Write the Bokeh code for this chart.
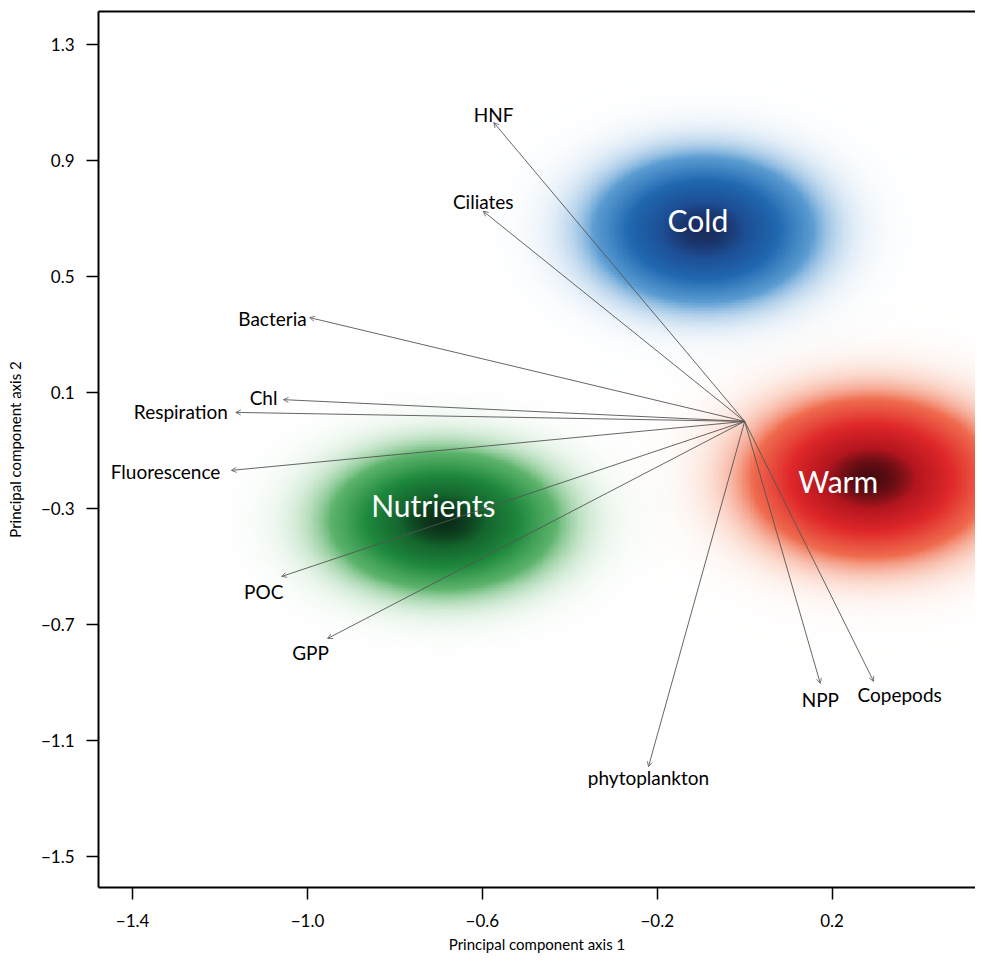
import numpy as np
from bokeh.plotting import figure
from bokeh.models import (ColumnDataSource, Arrow, OpenHead, LinearAxis, FixedTicker,
                          CustomJSTickFormatter, Range1d)
from bokeh.core.properties import value
from bokeh.embed import file_html
from bokeh.resources import INLINE

# ---- data: variable loadings (arrows) ----
var_names = ["HNF", "Ciliates", "Bacteria", "Chl", "Respiration", "Fluorescence",
             "POC", "GPP", "phytoplankton", "NPP", "Copepods"]
var_pc1 = [-0.574, -0.598, -0.995, -1.055, -1.164, -1.174, -1.059, -0.954, -0.220, 0.173, 0.295]
var_pc2 = [1.031, 0.725, 0.358, 0.075, 0.031, -0.169, -0.535, -0.749, -1.191, -0.904, -0.897]

# ---- data: group clouds ----
group_names = ["Cold", "Warm", "Nutrients"]
group_pc1 = [-0.094, 0.288, -0.690]
group_pc2 = [0.659, -0.197, -0.345]
group_sd1 = [0.175, 0.190, 0.180]
group_sd2 = [0.175, 0.190, 0.165]
group_label_pc1 = [-0.107, 0.214, -0.712]
group_label_pc2 = [0.696, -0.204, -0.290]

x_ticks = [-1.4, -1.0, -0.6, -0.2, 0.2]
y_ticks = [1.3, 0.9, 0.5, 0.1, -0.3, -0.7, -1.1, -1.5]

# ---- styles ----
FONT = "Lato"
group_colors = {
    "Cold": ["#eef4fb", "#b9d4ed", "#5d9ed3", "#2069b1", "#1d4f96", "#1a2d5e"],
    "Warm": ["#fdeae2", "#f9bba3", "#f06e50", "#e0282a", "#b5161f", "#4a0b10"],
    "Nutrients": ["#ecf6ed", "#b8dfbd", "#5fb56e", "#1f8a3e", "#15662e", "#0b2e18"],
}
stop_t = [0.0, 0.12, 0.35, 0.62, 0.86, 1.0]
# label placement: (align, x_offset px, y_offset px)
label_place = {
    "HNF": ("center", 0, -8), "Ciliates": ("center", 0, -10),
    "Bacteria": ("right", -3, 1), "Chl": ("right", -6, -2),
    "Respiration": ("right", -8, -1), "Fluorescence": ("right", -11, 1),
    "POC": ("center", -18, 15), "GPP": ("center", -17, 14),
    "phytoplankton": ("center", 0, 11), "NPP": ("center", 0, 16),
    "Copepods": ("center", 26, 13),
}

p = figure(width=975, height=957, output_backend="svg", toolbar_location=None,
           x_range=Range1d(-1.478, 0.528), y_range=Range1d(-1.608, 1.414),
           min_border_left=98, min_border_right=0, min_border_top=11, min_border_bottom=70)
p.outline_line_color = None
p.grid.visible = False
p.background_fill_color = "white"

fmt = CustomJSTickFormatter(code="return tick.toFixed(1).replace('-', '\u2212');")
for ax in (p.xaxis[0], p.yaxis[0]):
    ax.axis_line_width = 2
    ax.axis_line_color = "black"
    ax.major_tick_line_width = 1.5
    ax.major_tick_out = 12
    ax.major_tick_in = 0
    ax.minor_tick_line_color = None
    ax.major_label_text_font = FONT
    ax.major_label_text_font_size = "17px"
    ax.major_label_text_color = "black"
    ax.axis_label_text_font = FONT
    ax.axis_label_text_font_style = "normal"
    ax.axis_label_text_font_size = "15px"
    ax.axis_label_text_color = "black"
    ax.formatter = fmt
p.xaxis[0].ticker = FixedTicker(ticks=x_ticks)
p.yaxis[0].ticker = FixedTicker(ticks=y_ticks)
p.xaxis[0].axis_label = "Principal component axis 1"
p.yaxis[0].axis_label = "Principal component axis 2"
p.xaxis[0].major_label_standoff = 14
p.yaxis[0].major_label_standoff = 12
p.xaxis[0].axis_label_standoff = 5
p.yaxis[0].axis_label_standoff = 14

top = LinearAxis(ticker=FixedTicker(ticks=[]), major_label_text_font_size="0px",
                 major_label_standoff=0, axis_line_width=2, axis_line_color="black",
                 major_tick_line_color=None, minor_tick_line_color=None)
p.add_layout(top, "above")


def hex2rgb(h):
    h = h.lstrip("#")
    return [int(h[i:i + 2], 16) for i in (0, 2, 4)]


for name, cx, cy, sx, sy in zip(group_names, group_pc1, group_pc2, group_sd1, group_sd2):
    nx, ny = 260, 260
    x0, x1 = cx - 4 * sx, cx + 4 * sx
    y0, y1 = cy - 4 * sy, cy + 4 * sy
    X, Y = np.meshgrid(np.linspace(x0, x1, nx), np.linspace(y0, y1, ny))
    t = np.exp(-0.5 * (((X - cx) / sx) ** 2 + ((Y - cy) / sy) ** 2))
    rgb = np.array([hex2rgb(c) for c in group_colors[name]], dtype=float)
    img = np.empty((ny, nx), dtype=np.uint32)
    view = img.view(dtype=np.uint8).reshape((ny, nx, 4))
    for k in range(3):
        view[:, :, k] = np.interp(t, stop_t, rgb[:, k]).astype(np.uint8)
    view[:, :, 3] = (np.clip(t * 2.8, 0, 1) * 255).astype(np.uint8)
    p.image_rgba(image=[img], x=x0, y=y0, dw=x1 - x0, dh=y1 - y0)

src = ColumnDataSource(dict(
    x0=[0.0] * len(var_names), y0=[0.0] * len(var_names),
    x=var_pc1, y=var_pc2, name=var_names,
    align=[label_place[n][0] for n in var_names],
    dx=[label_place[n][1] for n in var_names],
    dy=[label_place[n][2] for n in var_names],
))
p.add_layout(Arrow(end=OpenHead(size=5, line_color="#555555", line_width=0.8),
                   x_start="x0", y_start="y0", x_end="x", y_end="y", source=src,
                   line_color="#555555", line_width=0.9))

gsrc = ColumnDataSource(dict(x=group_label_pc1, y=group_label_pc2, name=group_names))
p.text(x="x", y="y", text="name", source=gsrc, text_font=value(FONT),
       text_font_size="30px", text_color="white", text_align="center",
       text_baseline="middle")

p.text(x="x", y="y", text="name", source=src, text_font=value(FONT),
       text_font_size="19px", text_color="black", text_align="align",
       text_baseline="middle", x_offset="dx", y_offset="dy")

open("out.html", "w").write(file_html(p, INLINE))
